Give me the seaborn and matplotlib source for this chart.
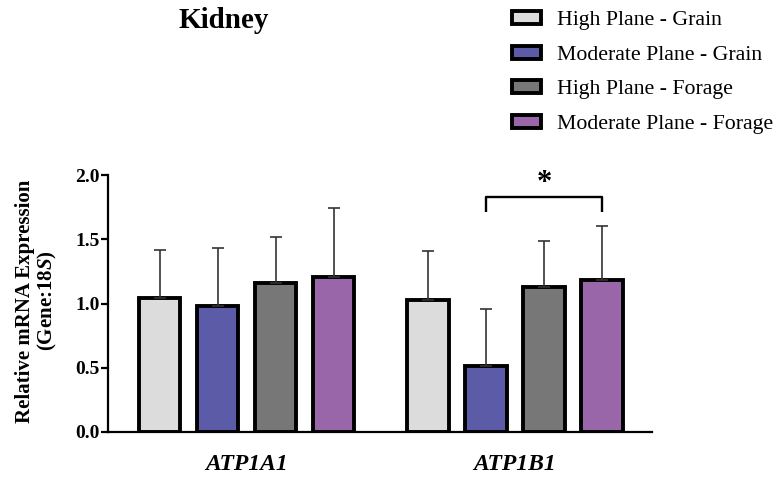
import matplotlib
matplotlib.use("Agg")
import matplotlib.pyplot as plt
import seaborn as sns
import pandas as pd
import numpy as np

# ---- data ----
genes = ["ATP1A1", "ATP1B1"]
groups = ["High Plane - Grain", "Moderate Plane - Grain",
          "High Plane - Forage", "Moderate Plane - Forage"]
hp_grain = [1.04, 1.03]
mp_grain = [0.98, 0.51]
hp_forage = [1.16, 1.13]
mp_forage = [1.21, 1.18]
hp_grain_err = [0.38, 0.38]
mp_grain_err = [0.45, 0.45]
hp_forage_err = [0.36, 0.36]
mp_forage_err = [0.53, 0.42]
colors = ["#DCDCDC", "#5B5BA8", "#777777", "#9966AA"]
yticks = [0.0, 0.5, 1.0, 1.5, 2.0]

means = [hp_grain, mp_grain, hp_forage, mp_forage]
errs = [hp_grain_err, mp_grain_err, hp_forage_err, mp_forage_err]

rows = []
for g, vals in zip(groups, means):
    for gene, v in zip(genes, vals):
        rows.append({"gene": gene, "group": g, "value": v})
df = pd.DataFrame(rows)

sns.set_theme(style="ticks")
plt.rcParams["font.family"] = ["Liberation Serif", "DejaVu Serif"]
plt.rcParams["text.color"] = "black"
plt.rcParams["axes.labelcolor"] = "black"
plt.rcParams["xtick.color"] = "black"
plt.rcParams["ytick.color"] = "black"
plt.rcParams["mathtext.fontset"] = "custom"
plt.rcParams["mathtext.rm"] = "Liberation Serif:bold"
plt.rcParams["mathtext.it"] = "Liberation Serif:italic:bold"
plt.rcParams["mathtext.bf"] = "Liberation Serif:bold"

fig = plt.figure(figsize=(7.83, 4.82), dpi=100)
ax = fig.add_axes([108/783, 1-432/482, (652-108)/783, (432-175)/482])

sns.barplot(data=df, x="gene", y="value", hue="group", order=genes,
            hue_order=groups, palette=colors, width=0.864, gap=0.28,
            edgecolor="black", linewidth=2.8, errorbar=None, ax=ax,
            legend=True, saturation=1)

# error bars (upper only)
for cont, err in zip(ax.containers, errs):
    xs = [b.get_x() + b.get_width()/2 for b in cont]
    hs = [b.get_height() for b in cont]
    ax.errorbar(xs, hs, yerr=[np.zeros(len(err)), err], fmt="none",
                ecolor="#333333", elinewidth=1.2, capsize=4.5,
                capthick=1.2, zorder=1)

# significance bracket
b1 = ax.containers[1][1]
b3 = ax.containers[3][1]
x1 = b1.get_x() + b1.get_width()/2
x3 = b3.get_x() + b3.get_width()/2
ax.plot([x1, x1, x3, x3], [1.71, 1.83, 1.83, 1.71], color="black",
        lw=1.7, clip_on=False, solid_capstyle="butt")
ax.text((x1+x3)/2, 1.935, "*", ha="center", va="center", fontsize=22,
        fontweight="bold", clip_on=False)

ax.set_ylim(0, 2.0)
ax.set_xlim(-0.516, 1.51)
ax.set_yticks(yticks)
ax.set_yticklabels([f"{t:.1f}" for t in yticks], fontsize=14,
                   fontweight="bold")
ax.set_xticks([0, 1])
ax.set_xticklabels(genes, fontsize=17, fontweight="bold", style="italic")
ax.tick_params(axis="x", length=0, pad=16)
ax.tick_params(axis="y", length=5, width=1.6, pad=1, color="black")
ax.set_xlabel("")
ax.set_ylabel("")
for s in ["top", "right"]:
    ax.spines[s].set_visible(False)
for s in ["left", "bottom"]:
    ax.spines[s].set_linewidth(1.6)
    ax.spines[s].set_color("black")

fig.text(37/783, 1-301/482, "Relative mRNA Expression\n(Gene:$\\mathit{18S}$)",
         rotation=90, ha="center", va="center", fontsize=15,
         fontweight="bold", multialignment="center", linespacing=1.05)

fig.text(224/783, 1-20/482, "Kidney", ha="center", va="center",
         fontsize=21, fontweight="bold")

handles, labels = ax.get_legend_handles_labels()
ax.get_legend().remove()
fig.legend(handles, labels, loc="upper left",
           bbox_to_anchor=(512/783, 1-11/482), frameon=False, fontsize=15.7,
           handlelength=1.35, handleheight=0.55, handletextpad=0.7,
           labelspacing=0.70, borderpad=0, borderaxespad=0)

fig.savefig("out.png", dpi=100)
